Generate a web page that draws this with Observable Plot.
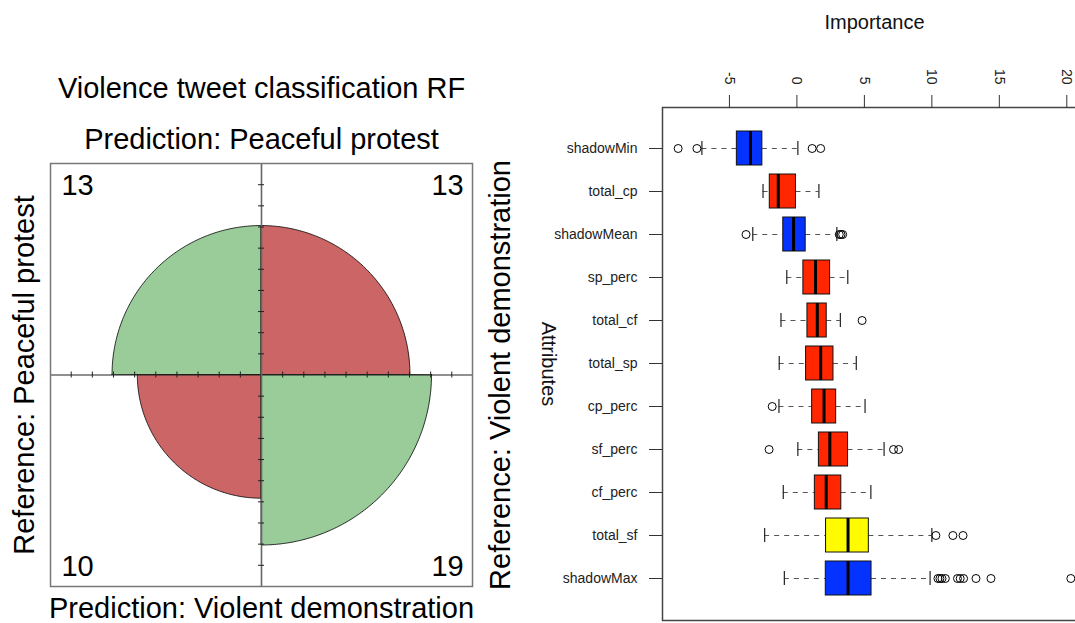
<!DOCTYPE html>
<html><head><meta charset="utf-8">
<script src="https://cdn.jsdelivr.net/npm/d3@7"></script>
<script src="https://cdn.jsdelivr.net/npm/@observablehq/plot@0.6"></script>
<style>
html,body{margin:0;padding:0;background:#fff;}
#wrap{position:relative;width:1075px;height:623px;overflow:hidden;font-family:"Liberation Sans",Arial,sans-serif;}
#left{position:absolute;left:0;top:0;width:540px;height:623px;}
#right{position:absolute;left:530px;top:0;width:570px;height:623px;}
#wrap svg{max-width:none !important;display:block;}
</style></head><body><div id="wrap"><div id="left"></div><div id="right"></div></div>
<script>
// ---------- Fourfold plot data (confusion matrix) ----------
const fourfoldTitle = "Violence tweet classification RF";
const predictionLevels = ["Peaceful protest", "Violent demonstration"];
const referenceLevels = ["Peaceful protest", "Violent demonstration"];
const cellPrediction = ["Peaceful protest", "Peaceful protest", "Violent demonstration", "Violent demonstration"];
const cellReference  = ["Peaceful protest", "Violent demonstration", "Peaceful protest", "Violent demonstration"];
const cellCounts = [13, 13, 10, 19];

// ---------- Boruta importance data ----------
const attributes = ["shadowMin","total_cp","shadowMean","sp_perc","total_cf","total_sp","cp_perc","sf_perc","cf_perc","total_sf","shadowMax"];
const decisions  = ["Shadow","Rejected","Shadow","Rejected","Rejected","Rejected","Rejected","Rejected","Rejected","Tentative","Shadow"];
const whiskerLow  = [-7.04, -2.51, -3.27, -0.75, -1.18, -1.31, -1.33, 0.07, -1.01, -2.39, -0.93];
const quartile1   = [-4.45, -2.01, -1.01, 0.48, 0.78, 0.68, 1.13, 1.63, 1.33, 2.16, 2.14];
const medians     = [-3.44, -1.38, -0.25, 1.38, 1.51, 1.76, 2.01, 2.44, 2.17, 3.79, 3.79];
const quartile3   = [-2.56, -0.07, 0.65, 2.46, 2.21, 2.71, 2.91, 3.79, 3.29, 5.33, 5.53];
const whiskerHigh = [0.07, 1.63, 2.96, 3.77, 3.22, 4.40, 5.05, 6.46, 5.48, 10.0, 9.87];
const outlierAttr  = ["shadowMin","shadowMin","shadowMin","shadowMin","shadowMean","shadowMean","shadowMean","shadowMean","total_cf","cp_perc","sf_perc","sf_perc","sf_perc","total_sf","total_sf","total_sf","shadowMax","shadowMax","shadowMax","shadowMax","shadowMax","shadowMax","shadowMax","shadowMax","shadowMax","shadowMax"];
const outlierValue = [-8.80, -7.41, 1.13, 1.76, -3.77, 3.14, 3.27, 3.39, 4.83, -1.83, -2.06, 7.16, 7.54, 10.30, 11.56, 12.31, 10.45, 10.60, 10.75, 11.00, 11.90, 12.10, 12.35, 13.27, 14.38, 20.30];
const importanceTicks = [-5, 0, 5, 10, 15, 20];

// ================= LEFT: fourfold plot =================
{
  const W = 540, H = 623;
  const mL = 50, mR = 68, mT = 163, mB = 37;
  const fw = W - mL - mR, fh = H - mT - mB;
  const u = 1.2375;                              // plot window half-width in radius units
  const yHalf = u * fh / fw;                     // asp = 1
  // standardize by rows (prediction), then scale by max
  const rowSum = {};
  cellCounts.forEach((c, i) => rowSum[cellPrediction[i]] = (rowSum[cellPrediction[i]] || 0) + c);
  const props = cellCounts.map((c, i) => c / rowSum[cellPrediction[i]]);
  const pmax = d3.max(props);
  const pts = [];
  cellCounts.forEach((c, i) => {
    const r = Math.sqrt(props[i] / pmax);
    const sx = cellReference[i] === referenceLevels[0] ? -1 : 1;
    const sy = cellPrediction[i] === predictionLevels[0] ? 1 : -1;
    const agree = cellReference[i] === cellPrediction[i] ? "agree" : "disagree";
    for (let k = 0; k <= 120; k++) {
      const t = (k / 120) * Math.PI / 2;
      pts.push({q: i, agree, x: sx * r * Math.cos(t), y: sy * r * Math.sin(t)});
    }
  });
  const step = 0.124;
  const tickPos = d3.range(-9, 10).filter(k => k !== 0).map(k => k * step);
  const tl = 3 / (fw / (2 * u));
  const fs = 29;
  const T = {fontSize: fs, fill: "#000", textAnchor: "middle", lineAnchor: "middle"};
  const cellText = cellCounts.map((c, i) => {
    const top = cellPrediction[i] === predictionLevels[0];
    const left = cellReference[i] === referenceLevels[0];
    return Plot.text([String(c)], {
      ...T,
      frameAnchor: (top ? "top" : "bottom") + "-" + (left ? "left" : "right"),
      dx: left ? 27 : -25, dy: top ? 22 : -20
    });
  });
  const chart = Plot.plot({
    width: W, height: H, marginLeft: mL, marginRight: mR, marginTop: mT, marginBottom: mB,
    style: {fontFamily: "'Liberation Sans', Arial, sans-serif", background: "transparent", overflow: "visible"},
    x: {domain: [-u, u], axis: null},
    y: {domain: [-yHalf, yHalf], axis: null},
    color: {domain: ["agree", "disagree"], range: ["#99CC99", "#CC6666"]},
    marks: [
      Plot.areaY(pts, {x: "x", y1: () => 0, y2: "y", z: "q", fill: "agree", stroke: "#000", strokeWidth: 0.8, curve: "linear"}),
      Plot.ruleY([0], {stroke: "#222", strokeWidth: 1.2}),
      Plot.ruleX([0], {stroke: "#666", strokeWidth: 1.6}),
      Plot.ruleX(tickPos, {x: d => d, y1: -tl, y2: tl, stroke: "#222"}),
      Plot.ruleY(tickPos.filter(v => Math.abs(v) < yHalf), {y: d => d, x1: -tl, x2: tl, stroke: "#222"}),
      Plot.frame({stroke: "#777", strokeWidth: 1.5}),
      ...cellText,
      Plot.text([fourfoldTitle], {...T, frameAnchor: "top", dy: 88 - mT}),
      Plot.text([`Prediction: ${predictionLevels[0]}`], {...T, frameAnchor: "top", dy: 139 - mT}),
      Plot.text([`Prediction: ${predictionLevels[1]}`], {...T, frameAnchor: "bottom", dy: 608 - (H - mB)}),
      Plot.text([`Reference: ${referenceLevels[0]}`], {...T, frameAnchor: "left", dx: 24 - mL, rotate: -90}),
      Plot.text([`Reference: ${referenceLevels[1]}`], {...T, frameAnchor: "right", dx: 500 - (W - mR), rotate: -90})
    ]
  });
  document.getElementById("left").appendChild(chart);
}

// ================= RIGHT: Boruta boxplot (rotated) =================
{
  const boxes = attributes.map((a, i) => ({attr: a, decision: decisions[i], lo: whiskerLow[i], q1: quartile1[i], med: medians[i], q3: quartile3[i], hi: whiskerHigh[i]}));
  const outliers = outlierAttr.map((a, i) => ({attr: a, value: outlierValue[i]}));
  const W = 570, H = 623;
  const chart = Plot.plot({
    width: W, height: H, marginLeft: 132, marginRight: 14, marginTop: 107, marginBottom: 3,
    style: {fontFamily: "'Liberation Sans', Arial, sans-serif", background: "transparent", overflow: "visible", color: "#222"},
    x: {domain: [-9.96, 21.46], axis: null},
    y: {domain: attributes, paddingInner: 0.2, paddingOuter: 0.5375, axis: null},
    color: {domain: ["Shadow", "Rejected", "Tentative", "Confirmed"], range: ["#0433ff", "#ff2600", "#fffb00", "#00c000"]},
    marks: [
      Plot.ruleY(boxes, {y: "attr", x1: "lo", x2: "q1", stroke: "#555", strokeDasharray: "5,5"}),
      Plot.ruleY(boxes, {y: "attr", x1: "q3", x2: "hi", stroke: "#555", strokeDasharray: "5,5"}),
      Plot.tickX(boxes, {x: "lo", y: "attr", insetTop: 10, insetBottom: 10, stroke: "#222", strokeWidth: 1.2}),
      Plot.tickX(boxes, {x: "hi", y: "attr", insetTop: 10, insetBottom: 10, stroke: "#222", strokeWidth: 1.2}),
      Plot.barX(boxes, {x1: "q1", x2: "q3", y: "attr", fill: "decision", stroke: "#111", strokeWidth: 1}),
      Plot.tickX(boxes, {x: "med", y: "attr", stroke: "#000", strokeWidth: 3}),
      Plot.dot(outliers, {x: "value", y: "attr", r: 4, stroke: "#000", strokeWidth: 1, fill: "none"}),
      Plot.frame({stroke: "#444", strokeWidth: 1.5}),
      Plot.axisY({tickSize: 13, tickPadding: 12, fontSize: 14, stroke: "#333", label: null}),
      Plot.axisX({anchor: "top", ticks: importanceTicks, tickSize: 13, tickFormat: () => "", stroke: "#333", label: null}),
      Plot.text(importanceTicks, {x: d => d, text: d => String(d), frameAnchor: "top", dy: -23, rotate: 90, textAnchor: "end", lineAnchor: "middle", fontSize: 14, fill: "#222"}),
      Plot.text(["Importance"], {frameAnchor: "top", dy: -85, textAnchor: "middle", lineAnchor: "middle", fontSize: 20, fill: "#111"}),
      Plot.text(["Attributes"], {frameAnchor: "left", dx: -114.5, rotate: 90, textAnchor: "middle", lineAnchor: "middle", fontSize: 20, fill: "#111"})
    ]
  });
  document.getElementById("right").appendChild(chart);
}
</script></body></html>
